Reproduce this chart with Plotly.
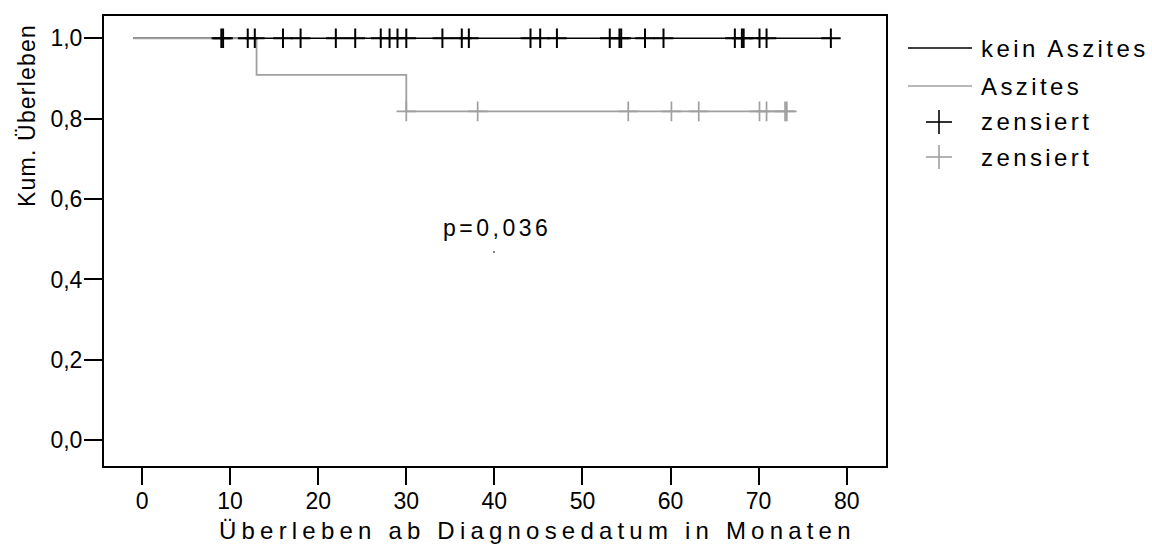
import plotly.graph_objects as go

# Survival times in months
start_time = -1.0

no_ascites_events = []
no_ascites_censored = [9.0, 9.2, 12.0, 12.8, 16.0, 18.0, 22.0, 24.2, 27.1, 28.1, 29.0, 30.0,
                       34.1, 36.3, 37.1, 44.1, 45.2, 47.1, 53.1, 54.2, 54.4, 57.1, 59.2,
                       67.3, 68.1, 68.3, 70.1, 70.9, 78.2]

ascites_events = [13.0, 30.0]
ascites_censored = [30.0, 38.1, 55.2, 60.1, 63.2, 70.1, 70.9, 73.0, 73.2]

x_ticks = [0, 10, 20, 30, 40, 50, 60, 70, 80]
y_ticks = [0.0, 0.2, 0.4, 0.6, 0.8, 1.0]
y_tick_text = ["0,0", "0,2", "0,4", "0,6", "0,8", "1,0"]

group_names = ["kein Aszites", "Aszites"]
censor_name = "zensiert"
p_text = "p=0,036"
x_title = "Überleben ab Diagnosedatum in Monaten"
y_title = "Kum. Überleben"

BLACK = "#000000"
GREY = "#a0a0a0"
FONT = "Arial, Liberation Sans, sans-serif"


def kaplan_meier(events, censored, t0):
    """Step curve (times, survival) and survival at each censored time."""
    times = sorted(set(events) | set(censored))
    n_risk = len(events) + len(censored)
    s = 1.0
    xs, ys = [t0], [1.0]
    surv_at = {}
    for t in times:
        d = events.count(t)
        c = censored.count(t)
        if d:
            s *= 1 - d / n_risk
        xs.append(t)
        ys.append(s)
        surv_at[t] = s
        n_risk -= d + c
    cens_y = [surv_at[t] for t in censored]
    return xs, ys, cens_y


def spaced(text, px_spacing):
    """Wrap text in a span with extra tracking between glyphs."""
    return f'<span style="letter-spacing:{px_spacing}px">{text}</span>'


bx, by, bcy = kaplan_meier(no_ascites_events, no_ascites_censored, start_time)
gx, gy, gcy = kaplan_meier(ascites_events, ascites_censored, start_time)

fig = go.Figure()
fig.add_trace(go.Scatter(x=bx, y=by, mode="lines", line=dict(color=BLACK, width=1.5, shape="hv"),
                         showlegend=False, hoverinfo="skip"))
fig.add_trace(go.Scatter(x=gx, y=gy, mode="lines", line=dict(color=GREY, width=1.8, shape="hv"),
                         showlegend=False, hoverinfo="skip"))
fig.add_trace(go.Scatter(x=no_ascites_censored, y=bcy, mode="markers",
                         marker=dict(symbol="cross-thin", size=14, line=dict(color=BLACK, width=2)),
                         showlegend=False, hoverinfo="skip"))
fig.add_trace(go.Scatter(x=ascites_censored, y=gcy, mode="markers",
                         marker=dict(symbol="cross-thin", size=14, line=dict(color=GREY, width=1.7)),
                         showlegend=False, hoverinfo="skip"))

W, H = 1152, 548
L, R, T, B = 104, 886, 16, 466


def px(x):
    # pixel column -> paper fraction of the plot area
    return (x - L) / (R - L)


def py(y):
    # pixel row -> paper fraction of the plot area
    return (B - y) / (B - T)


# Hand-drawn legend to the right of the plot box
shapes = []
annotations = []
legend_rows = [
    ("line", BLACK, group_names[0], 48),
    ("line", GREY, group_names[1], 86),
    ("cross", BLACK, censor_name, 122),
    ("cross", GREY, censor_name, 157),
]
for kind, col, label, yy in legend_rows:
    if kind == "line":
        shapes.append(dict(type="line", xref="paper", yref="paper", x0=px(908), x1=px(972),
                           y0=py(yy), y1=py(yy), line=dict(color=col, width=1.6)))
    else:
        shapes.append(dict(type="line", xref="paper", yref="paper", x0=px(926), x1=px(952),
                           y0=py(yy), y1=py(yy), line=dict(color=col, width=1.6)))
        shapes.append(dict(type="line", xref="paper", yref="paper", x0=px(939), x1=px(939),
                           y0=py(yy - 12), y1=py(yy + 12), line=dict(color=col, width=1.6)))
    annotations.append(dict(text=spaced(label, 3.4), xref="paper", yref="paper", x=px(979), y=py(yy),
                            xanchor="left", yanchor="middle", showarrow=False,
                            font=dict(family=FONT, size=24, color=BLACK)))

annotations.append(dict(text=spaced(p_text, 3.5), xref="paper", yref="paper", x=px(497), y=py(228),
                        xanchor="center", yanchor="middle", showarrow=False,
                        font=dict(family=FONT, size=23, color=BLACK)))
# small speck under the p-value comma
shapes.append(dict(type="circle", xref="paper", yref="paper", x0=px(493), x1=px(495),
                   y0=py(251), y1=py(253), line=dict(width=0), fillcolor="#555555"))
annotations.append(dict(text=spaced(x_title, 5.2), xref="paper", yref="paper", x=px(537), y=py(530),
                        xanchor="center", yanchor="middle", showarrow=False,
                        font=dict(family=FONT, size=24, color=BLACK)))
annotations.append(dict(text=spaced(y_title, 1.2), xref="paper", yref="paper", x=px(27), y=py(116),
                        xanchor="center", yanchor="middle", showarrow=False, textangle=-90,
                        font=dict(family=FONT, size=23, color=BLACK)))

fig.update_layout(
    width=W, height=H,
    margin=dict(l=L, r=W - R, t=T, b=H - B),
    plot_bgcolor="white", paper_bgcolor="white",
    font=dict(family=FONT, size=23, color=BLACK),
    showlegend=False,
    shapes=shapes,
    annotations=annotations,
)
fig.update_xaxes(range=[-4.32, 84.46], tickvals=x_ticks, ticks="outside", ticklen=17,
                 tickwidth=1.5, tickcolor=BLACK, showline=True, linecolor=BLACK, linewidth=2,
                 mirror=True, showgrid=False, zeroline=False, ticklabelstandoff=-4,
                 tickfont=dict(family=FONT, size=23))
fig.update_yaxes(range=[-0.064, 1.0555], tickvals=y_ticks, ticktext=y_tick_text,
                 ticks="outside", ticklen=18, tickwidth=1.5, tickcolor=BLACK, showline=True,
                 linecolor=BLACK, linewidth=2, mirror=True, showgrid=False, zeroline=False,
                 ticklabelstandoff=-3,
                 tickfont=dict(family=FONT, size=23))

fig.write_html("out.html")
